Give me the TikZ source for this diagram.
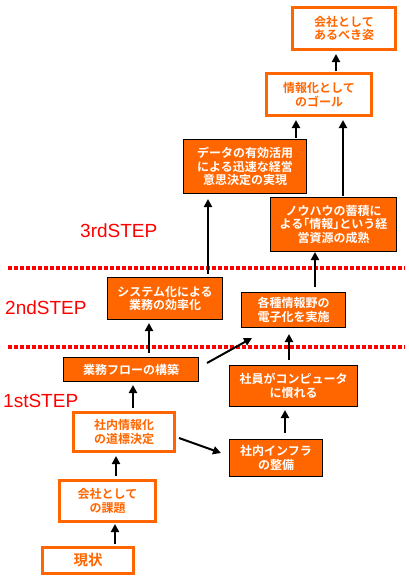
\documentclass[tikz,border=0pt]{standalone}
\usepackage{fontspec}
\newfontfamily\jp{Noto Sans CJK JP Bold}
\newfontfamily\lat{Liberation Sans}
\usetikzlibrary{arrows.meta}
\definecolor{org}{HTML}{FF6600}
\definecolor{stepred}{HTML}{FF0000}
\tikzset{
  wbox/.style={draw=org, line width=3pt, fill=white, text=org, align=center,
    font=\jp\fontsize{12}{13.5}\selectfont, inner sep=0pt},
  obox/.style={draw=black, line width=1pt, fill=org, text=white, align=center,
    font=\jp\fontsize{12}{13.5}\selectfont, inner sep=0pt},
  arr/.style={draw=black, line width=2pt, -{Triangle[width=8pt,length=8pt]},
    shorten >=3pt, shorten <=3pt},
  sep/.style={draw=stepred, line width=4pt, dash pattern=on 4pt off 2pt},
  steplbl/.style={text=stepred, font=\lat\fontsize{19}{19}\selectfont, anchor=base west, inner sep=0pt}
}
\begin{document}
\begin{tikzpicture}[x=1pt,y=-1pt]
\useasboundingbox[fill=white] (0,0) rectangle (409,584);

% separators
\coordinate (s1a) at (8,268); \coordinate (s1b) at (405,268);
\coordinate (s2a) at (8,347); \coordinate (s2b) at (405,347);
\draw[sep] (s1a) -- (s1b);
\draw[sep] (s2a) -- (s2b);

% step labels
\node[steplbl] (st3) at (80,237) {3rdSTEP};
\node[steplbl] (st2) at (5,314) {2ndSTEP};
\node[steplbl] (st1) at (3,407) {1stSTEP};

% boxes
\node[wbox, minimum width=103pt, minimum height=42pt] (goal0) at (344,28.5) {会社として\\あるべき姿};
\node[wbox, minimum width=105pt, minimum height=42pt] (goal1) at (319,94.5) {情報化として\\のゴール};
\node[obox, minimum width=123pt, minimum height=54pt] (data) at (245,166.5) {データの有効活用\\による迅速な経営\\意思決定の実現};
\node[obox, minimum width=126pt, minimum height=54pt] (know) at (333.5,224.5) {ノウハウの蓄積に\\よる｢情報｣という経\\営資源の成熟};
\node[obox, minimum width=115pt, minimum height=42pt] (sys) at (165,298.5) {システム化による\\業務の効率化};
\node[obox, minimum width=104pt, minimum height=35pt] (kaku) at (293.5,310) {各種情報野の\\電子化を実施};
\node[obox, minimum width=135pt, minimum height=24pt] (flow) at (131,369.5) {業務フローの構築};
\node[obox, minimum width=128pt, minimum height=41pt] (shain) at (293.5,386) {社員がコンピュータ\\に慣れる};
\node[wbox, minimum width=101pt, minimum height=39pt] (info) at (124,432) {社内情報化\\の道標決定};
\node[obox, minimum width=93pt, minimum height=37pt] (infra) at (276,458) {社内インフラ\\の整備};
\node[wbox, minimum width=96pt, minimum height=41pt] (kadai) at (107.5,501) {会社として\\の課題};
\node[wbox, minimum width=91pt, minimum height=26pt, font=\jp\fontsize{14.5}{16}\selectfont] (now) at (88,560.5) {現状};

% vertical arrows
\draw[arr, shorten <=1pt] ([xshift=17]goal1.north) -- ([xshift=-8]goal0.south);
\draw[arr, shorten <=1pt] ([xshift=51]data.north) -- ([xshift=-23]goal1.south);
\draw[arr, shorten <=1pt] ([xshift=9.5]know.north) -- ([xshift=24]goal1.south);
\draw[arr, shorten >=5pt] ([xshift=43]sys.north) -- ([xshift=-37]data.south);
\draw[arr, shorten <=5pt, shorten >=0pt] ([xshift=21.5]kaku.north) -- ([xshift=-18.5]know.south);
\draw[arr, shorten <=4pt] ([xshift=18]flow.north) -- ([xshift=-16]sys.south);
\draw[arr, shorten <=5pt, shorten >=6pt] ([xshift=-4.5]shain.north) -- ([xshift=-4.5]kaku.south);
\draw[arr] ([xshift=9]info.north) -- ([xshift=2]flow.south);
\draw[arr, shorten <=6pt] ([xshift=9]infra.north) -- ([xshift=-8.5]shain.south);
\draw[arr] ([xshift=8.5]kadai.north) -- ([xshift=-8]info.south);
\draw[arr, shorten <=2pt, shorten >=1pt] ([xshift=27]now.north) -- ([xshift=7.5]kadai.south);

% diagonal arrows
\coordinate (d1s) at (207,363); \coordinate (d1e) at (252,338);
\coordinate (d2s) at (179,438); \coordinate (d2e) at (221,453);
\draw[arr, shorten <=0pt, shorten >=0pt] (d1s) -- (d1e);
\draw[arr, shorten <=0pt, shorten >=0pt] (d2s) -- (d2e);
\end{tikzpicture}
\end{document}
